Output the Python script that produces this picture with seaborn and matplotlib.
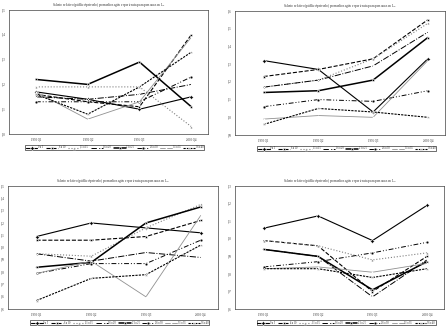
import numpy as np
import pandas as pd
import matplotlib
matplotlib.use('Agg')
import matplotlib.pyplot as plt
import seaborn as sns
from matplotlib.ticker import FuncFormatter, MultipleLocator

sns.set_style('white')
plt.rcParams['font.family'] = ['Liberation Serif', 'DejaVu Serif']

periods = ['1990 Q1', '1992 Q2', '1996 Q3', '2000 Q4']
groups = ['0 a 5', '6 a 10', '11 a 15', '16 a 20', '21 a 25', '26 a 30', '31 a 35', '36 a 40']

# --- L1 ---
l1 = [
    [1.17, 1.14, 1.10, 1.15],
    [1.16, 1.13, 1.11, 1.40],
    [1.19, 1.19, 1.19, 1.03],
    [1.15, 1.14, 1.16, 1.20],
    [1.22, 1.20, 1.29, 1.11],
    [1.13, 1.13, 1.13, 1.23],
    [1.17, 1.06, 1.13, 1.39],
    [1.16, 1.08, 1.19, 1.33],
]
# --- L2 ---
l2 = [
    [1.32, 1.27, 1.03, 1.33],
    [1.23, 1.27, 1.33, 1.55],
    [1.17, 1.21, 1.33, 1.53],
    [1.17, 1.21, 1.29, 1.48],
    [1.14, 1.15, 1.21, 1.45],
    [1.06, 1.10, 1.09, 1.15],
    [0.99, 1.01, 1.00, 1.32],
    [0.96, 1.05, 1.03, 1.00],
]
# --- L3 ---
l3 = [
    [1.09, 1.20, 1.16, 1.12],
    [1.06, 1.06, 1.09, 1.22],
    [0.95, 0.93, 1.16, 1.35],
    [0.95, 0.89, 0.96, 0.92],
    [0.84, 0.88, 1.20, 1.33],
    [0.79, 0.87, 0.87, 1.06],
    [0.79, 0.89, 0.60, 1.26],
    [0.57, 0.75, 0.78, 1.02],
]
# --- L4 ---
l4 = [
    [1.06, 1.13, 0.99, 1.19],
    [0.99, 0.96, 0.70, 0.90],
    [0.99, 0.96, 0.88, 0.92],
    [0.94, 0.90, 0.67, 0.88],
    [0.94, 0.90, 0.71, 0.87],
    [0.84, 0.87, 0.92, 0.98],
    [0.83, 0.84, 0.81, 0.86],
    [0.83, 0.83, 0.78, 0.83],
]

panels = [
    (l1, '1', (1.0, 1.5), [0.020, 0.595, 0.444, 0.375]),
    (l2, '2', (0.9, 1.6), [0.525, 0.592, 0.469, 0.375]),
    (l3, '3', (0.5, 1.5), [0.018, 0.066, 0.469, 0.372]),
    (l4, '4', (0.6, 1.3), [0.525, 0.066, 0.467, 0.372]),
]

styles = [
    dict(color='black', linestyle='-', marker='D', lw=0.8),
    dict(color='black', linestyle='--', marker='s', lw=0.8),
    dict(color='#808080', linestyle=':', marker='^', lw=0.8),
    dict(color='black', linestyle='-.', marker='x', lw=0.7),
    dict(color='black', linestyle='-', marker='s', lw=1.1),
    dict(color='black', linestyle=(0, (5, 2, 1, 2, 1, 2)), marker='o', lw=0.7),
    dict(color='#909090', linestyle='-', marker='+', lw=0.6),
    dict(color='black', linestyle=(0, (2, 1)), marker='*', lw=0.8),
]

fig = plt.figure(figsize=(4.48, 3.31), dpi=100)
comma = FuncFormatter(lambda v, p: f'{v:.1f}'.replace('.', ','))

for data, sub, (y0, y1), rect in panels:
    ax = fig.add_axes(rect)
    for g, vals, st in zip(groups, data, styles):
        sns.lineplot(x=periods, y=vals, ax=ax, label=g, markersize=2,
                     markeredgewidth=0.4, **st)
    ax.set_xlim(-0.52, 3.32)
    ax.set_ylim(y0, y1)
    ax.yaxis.set_major_locator(MultipleLocator(0.1))
    ax.yaxis.set_major_formatter(comma)
    ax.tick_params(labelsize=2.2, length=1.2, width=0.4, pad=1.5)
    ax.set_xlabel(''); ax.set_ylabel('')
    for s in ax.spines.values():
        s.set_linewidth(0.5); s.set_color('#404040')
    ax.set_title('Salario relativo (público/privado) promedio según experiencia para personas en L$_' + sub + '$',
                 fontsize=2.4, pad=3)
    ax.legend(loc='upper center', bbox_to_anchor=(0.53, -0.075), ncol=8, fontsize=1.9,
              frameon=True, fancybox=False, edgecolor='black', handlelength=4.5,
              columnspacing=1.0, handletextpad=0.3, borderpad=0.3).get_frame().set_linewidth(0.5)

fig.savefig('out.png', dpi=100)
